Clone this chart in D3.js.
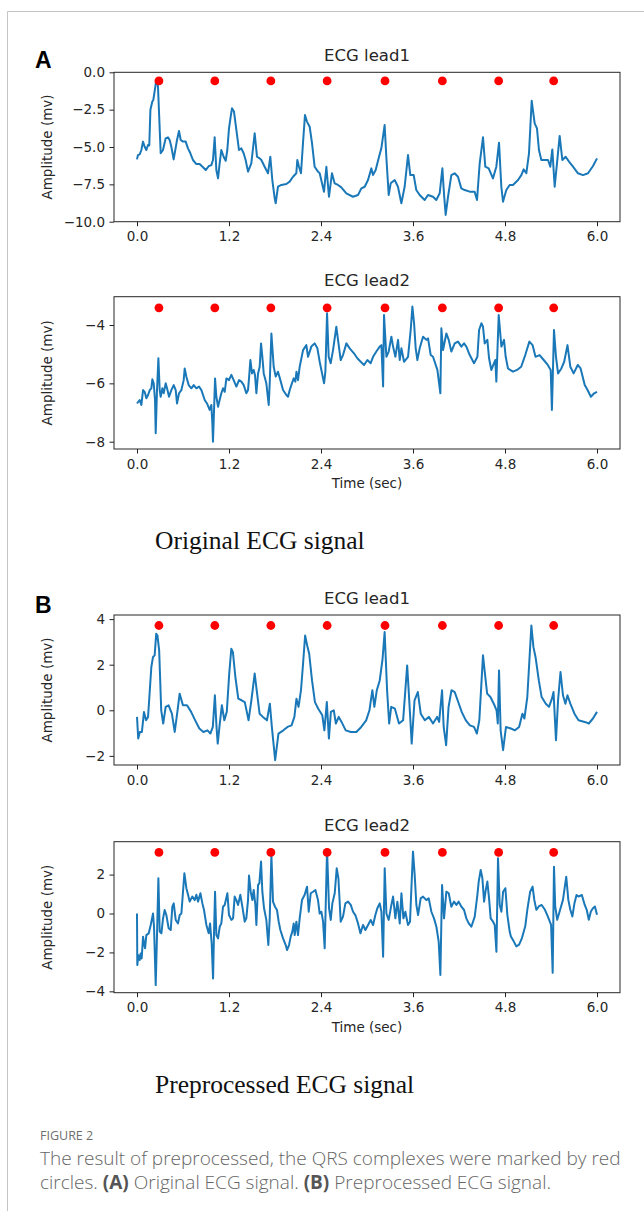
<!DOCTYPE html>
<html>
<head>
<meta charset="utf-8">
<script src="https://cdnjs.cloudflare.com/ajax/libs/d3/7.8.5/d3.min.js"></script>
<style>
  body { margin: 0; background: #fff; }
  svg { display: block; }
  .tick text { font-family: "DejaVu Sans", sans-serif; font-size: 13.5px; fill: #262626; }
  .tick line { stroke: #222; }
</style>
</head>
<body>
<div class="figure"></div>
<script>

// ---- data ----
var xTicks = [0, 1.2, 2.4, 3.6, 4.8, 6.0];
var qrsTimes = [0.286, 1.015, 1.746, 2.480, 3.235, 3.983, 4.717, 5.435];
var qrsLevels = [-0.58, -3.41, 3.72, 3.14];   // height of the red markers per panel

var yTicksOrig1 = [0, -2.5, -5, -7.5, -10];
var yTicksOrig2 = [-4, -6, -8];
var yTicksProc1 = [4, 2, 0, -2];
var yTicksProc2 = [2, 0, -2, -4];

// original lead1
var origLead1T = [0.000,0.013,0.035,0.057,0.078,0.100,0.122,0.143,0.160,0.175,0.200,0.213,0.235,0.252,0.265,0.274,0.309,0.339,0.374,0.404,0.426,0.448,0.478,0.522,0.548,0.570,0.600,0.635,0.665,0.696,0.730,0.774,0.817,0.861,0.896,0.939,0.970,0.991,1.013,1.035,1.057,1.078,1.100,1.130,1.157,1.178,1.200,1.222,1.239,1.265,1.296,1.330,1.361,1.391,1.417,1.448,1.491,1.535,1.565,1.600,1.622,1.665,1.709,1.739,1.765,1.796,1.809,1.839,1.883,1.948,1.991,2.035,2.078,2.091,2.113,2.139,2.165,2.191,2.217,2.252,2.283,2.317,2.361,2.383,2.439,2.470,2.504,2.543,2.578,2.622,2.665,2.730,2.817,2.883,2.926,2.970,3.013,3.057,3.078,3.113,3.157,3.187,3.230,3.252,3.283,3.309,3.361,3.404,3.448,3.491,3.535,3.565,3.609,3.643,3.687,3.752,3.796,3.861,3.904,3.948,3.983,4.004,4.026,4.057,4.100,4.143,4.187,4.230,4.274,4.339,4.404,4.435,4.470,4.513,4.543,4.587,4.643,4.687,4.722,4.752,4.774,4.817,4.861,4.904,4.970,5.013,5.043,5.078,5.113,5.148,5.187,5.217,5.243,5.274,5.317,5.361,5.391,5.417,5.448,5.478,5.513,5.548,5.591,5.635,5.687,5.752,5.817,5.883,5.948,6.000];
var origLead1V = [-5.83,-5.54,-5.49,-5.20,-4.64,-4.98,-5.20,-4.87,-4.90,-2.50,-1.96,-1.85,-1.10,-0.51,-0.62,-1.00,-5.42,-5.20,-4.42,-4.35,-4.53,-4.98,-5.83,-4.53,-3.93,-4.53,-4.64,-4.64,-5.09,-5.42,-5.87,-6.14,-6.14,-6.36,-6.54,-6.27,-6.21,-5.87,-4.35,-6.54,-7.10,-6.09,-5.20,-5.65,-5.92,-5.20,-3.75,-2.97,-2.41,-2.63,-3.86,-5.20,-5.09,-5.42,-5.87,-6.65,-6.09,-4.08,-5.65,-5.76,-5.87,-6.32,-6.76,-5.65,-7.21,-8.44,-8.77,-7.66,-7.54,-7.48,-7.32,-6.99,-6.76,-5.87,-6.32,-6.76,-4.75,-2.86,-3.30,-3.64,-4.75,-6.32,-6.65,-6.76,-8.00,-6.32,-8.33,-6.76,-7.43,-7.54,-7.70,-8.10,-8.33,-8.21,-7.77,-7.66,-7.21,-6.43,-6.88,-6.54,-5.65,-5.09,-3.53,-5.65,-8.21,-7.43,-7.21,-7.66,-8.77,-7.66,-5.54,-6.88,-6.88,-7.88,-8.21,-8.55,-8.21,-8.33,-8.55,-8.10,-6.43,-8.10,-9.55,-8.33,-6.88,-6.76,-6.99,-7.77,-7.88,-7.99,-7.99,-8.55,-6.09,-4.35,-6.32,-6.43,-7.10,-6.32,-4.71,-7.66,-8.66,-7.88,-7.54,-7.54,-7.21,-6.88,-6.50,-6.76,-5.42,-1.90,-3.42,-3.75,-5.20,-5.87,-5.87,-5.87,-6.32,-5.16,-7.66,-6.09,-4.26,-5.87,-5.65,-5.98,-6.32,-6.76,-6.88,-6.76,-6.27,-5.76];

// original lead2
var origLead2T = [0.000,0.035,0.057,0.079,0.100,0.122,0.144,0.166,0.187,0.200,0.218,0.235,0.244,0.261,0.279,0.296,0.309,0.331,0.348,0.374,0.392,0.418,0.448,0.479,0.505,0.522,0.548,0.579,0.609,0.622,0.644,0.674,0.709,0.740,0.774,0.809,0.840,0.883,0.913,0.948,0.970,0.983,0.991,1.005,1.018,1.035,1.057,1.078,1.100,1.122,1.144,1.166,1.200,1.231,1.261,1.296,1.331,1.361,1.392,1.426,1.448,1.461,1.479,1.500,1.522,1.539,1.557,1.579,1.600,1.618,1.635,1.653,1.687,1.718,1.731,1.753,1.783,1.809,1.839,1.870,1.905,1.948,1.970,1.992,2.013,2.044,2.065,2.080,2.100,2.122,2.166,2.209,2.231,2.274,2.317,2.353,2.383,2.440,2.457,2.479,2.500,2.526,2.557,2.600,2.622,2.657,2.687,2.731,2.774,2.830,2.874,2.918,2.961,3.005,3.048,3.079,3.122,3.166,3.188,3.210,3.222,3.253,3.283,3.318,3.340,3.370,3.405,3.427,3.449,3.483,3.535,3.570,3.592,3.614,3.635,3.657,3.687,3.731,3.775,3.796,3.831,3.861,3.918,3.957,3.970,3.992,4.035,4.066,4.100,4.144,4.187,4.231,4.266,4.296,4.340,4.396,4.440,4.462,4.492,4.513,4.535,4.570,4.592,4.622,4.657,4.674,4.687,4.718,4.753,4.787,4.809,4.839,4.904,4.957,5.011,5.064,5.118,5.160,5.198,5.251,5.305,5.358,5.396,5.412,5.439,5.465,5.492,5.535,5.572,5.615,5.652,5.695,5.749,5.786,5.840,5.877,5.920,5.963,6.000];
var origLead2V = [-6.69,-6.57,-6.74,-6.23,-6.29,-6.51,-6.40,-6.23,-6.17,-5.86,-6.00,-6.57,-7.71,-6.23,-5.14,-6.23,-6.46,-6.17,-6.34,-6.00,-6.17,-6.46,-6.23,-6.06,-6.23,-6.69,-6.34,-6.23,-5.89,-5.49,-5.77,-6.06,-6.17,-6.06,-6.17,-6.11,-6.23,-6.57,-6.69,-6.91,-6.74,-7.37,-8.00,-6.91,-5.83,-6.46,-6.80,-6.57,-6.34,-6.17,-6.29,-5.83,-5.89,-5.71,-5.89,-6.11,-5.89,-5.94,-6.06,-6.34,-6.23,-5.83,-5.20,-5.66,-5.54,-5.71,-6.34,-5.66,-5.43,-4.63,-5.09,-5.66,-6.00,-6.74,-6.00,-4.29,-5.43,-5.77,-5.60,-5.89,-6.23,-6.40,-6.46,-6.23,-6.06,-5.83,-5.94,-5.60,-5.89,-5.43,-4.86,-4.69,-5.09,-4.74,-4.63,-4.80,-5.26,-6.00,-5.60,-3.60,-5.09,-5.31,-4.86,-4.06,-4.51,-5.20,-5.03,-4.63,-4.80,-4.97,-5.14,-5.26,-5.37,-5.20,-5.31,-5.09,-4.91,-4.74,-4.69,-6.11,-3.66,-5.09,-4.91,-4.40,-4.74,-5.09,-4.51,-5.20,-4.80,-5.26,-5.09,-4.17,-3.37,-3.94,-4.80,-5.20,-4.80,-4.40,-4.51,-4.46,-5.03,-5.09,-5.54,-6.34,-4.11,-4.86,-4.29,-4.51,-4.91,-4.63,-4.57,-4.74,-4.63,-4.74,-5.03,-5.31,-5.09,-4.17,-3.94,-4.06,-4.63,-4.51,-5.14,-5.54,-5.31,-5.20,-5.94,-3.66,-4.74,-4.51,-5.09,-5.49,-5.60,-5.54,-5.43,-5.03,-4.57,-4.69,-5.09,-5.03,-5.20,-5.37,-5.54,-6.91,-4.17,-5.09,-5.66,-5.49,-5.26,-4.69,-5.43,-5.66,-5.37,-5.49,-6.06,-6.23,-6.46,-6.34,-6.29];

// preprocessed lead1
var procLead1T = [0.000,0.016,0.037,0.064,0.091,0.118,0.144,0.187,0.209,0.230,0.251,0.267,0.289,0.316,0.342,0.374,0.412,0.455,0.492,0.529,0.556,0.599,0.652,0.706,0.759,0.813,0.866,0.920,0.957,0.989,1.016,1.037,1.053,1.080,1.107,1.139,1.171,1.203,1.230,1.251,1.283,1.321,1.364,1.406,1.455,1.492,1.535,1.561,1.599,1.642,1.695,1.733,1.759,1.802,1.845,1.909,1.963,2.016,2.053,2.080,2.107,2.139,2.166,2.193,2.219,2.246,2.283,2.321,2.364,2.417,2.444,2.476,2.503,2.529,2.567,2.594,2.631,2.668,2.722,2.791,2.861,2.925,2.989,3.032,3.070,3.096,3.128,3.166,3.203,3.230,3.262,3.289,3.316,3.364,3.417,3.471,3.524,3.551,3.583,3.620,3.663,3.701,3.754,3.807,3.861,3.914,3.941,3.979,4.000,4.032,4.064,4.102,4.144,4.182,4.235,4.289,4.342,4.396,4.433,4.465,4.513,4.529,4.567,4.610,4.663,4.690,4.706,4.722,4.743,4.775,4.813,4.877,4.930,4.984,5.027,5.053,5.091,5.144,5.171,5.198,5.241,5.278,5.332,5.374,5.412,5.433,5.465,5.492,5.524,5.556,5.588,5.615,5.652,5.706,5.759,5.840,5.893,5.947,6.000];
var procLead1V = [-0.29,-1.24,-0.95,-0.95,-0.07,-0.44,-0.29,1.90,2.34,2.41,3.36,3.28,2.63,0.00,-0.58,0.15,0.22,-0.15,-0.95,0.00,0.73,0.22,0.22,-0.07,-0.44,-0.80,-0.95,-0.88,-1.02,-0.73,0.66,-0.73,-1.46,-0.58,0.22,-0.44,-0.07,1.61,2.70,2.55,1.46,0.51,0.44,0.36,-0.44,0.44,1.61,0.88,-0.15,-0.29,-0.44,0.29,-0.73,-2.19,-1.02,-0.88,-0.73,-0.66,-0.29,0.51,0.15,0.88,2.04,3.28,2.85,2.48,1.31,0.36,0.07,-0.22,-0.88,0.36,-1.24,-0.07,0.00,-0.58,-0.29,-0.51,-0.88,-0.95,-0.95,-0.73,-0.44,0.00,0.88,0.15,0.88,1.31,2.26,3.43,0.88,-0.58,0.15,0.07,-0.58,-0.44,1.97,0.44,-1.46,0.44,0.80,-0.15,-0.44,-0.29,-0.58,-0.29,-0.51,0.88,-0.73,-1.53,0.15,0.88,0.80,0.44,-0.07,-0.44,-0.66,-0.73,-1.02,-0.44,2.41,1.90,0.73,0.58,0.22,0.00,-0.58,1.75,-0.88,-1.75,-0.73,-0.80,-0.88,-0.73,-0.15,-0.36,0.58,3.72,2.77,2.34,1.31,0.58,0.29,0.15,0.51,0.80,-1.31,0.44,1.68,0.66,0.29,0.66,0.29,-0.15,-0.44,-0.51,-0.58,-0.36,-0.07];

// preprocessed lead2
var procLead2T = [0.000,0.004,0.018,0.035,0.048,0.061,0.079,0.092,0.105,0.122,0.153,0.179,0.196,0.209,0.222,0.244,0.261,0.279,0.296,0.318,0.340,0.361,0.383,0.413,0.440,0.461,0.479,0.505,0.535,0.557,0.579,0.618,0.644,0.666,0.687,0.722,0.753,0.774,0.796,0.827,0.853,0.874,0.905,0.935,0.953,0.974,0.992,1.005,1.018,1.035,1.057,1.079,1.100,1.122,1.144,1.179,1.200,1.231,1.253,1.274,1.296,1.318,1.348,1.374,1.405,1.426,1.448,1.461,1.483,1.505,1.522,1.544,1.557,1.579,1.596,1.618,1.635,1.657,1.687,1.713,1.731,1.753,1.774,1.800,1.826,1.848,1.870,1.905,1.940,1.957,1.983,2.005,2.026,2.044,2.057,2.079,2.100,2.122,2.152,2.187,2.218,2.240,2.266,2.296,2.327,2.361,2.383,2.405,2.427,2.448,2.479,2.505,2.527,2.548,2.579,2.605,2.627,2.657,2.687,2.718,2.753,2.788,2.818,2.848,2.883,2.914,2.948,2.979,3.014,3.048,3.079,3.109,3.135,3.166,3.188,3.210,3.231,3.253,3.283,3.318,3.340,3.370,3.396,3.427,3.449,3.475,3.500,3.535,3.561,3.579,3.600,3.622,3.644,3.666,3.700,3.731,3.774,3.805,3.840,3.874,3.905,3.935,3.957,3.979,4.005,4.035,4.066,4.100,4.135,4.166,4.196,4.231,4.266,4.296,4.327,4.361,4.405,4.440,4.457,4.483,4.505,4.527,4.549,4.570,4.592,4.613,4.644,4.666,4.688,4.709,4.731,4.753,4.775,4.805,4.831,4.861,4.877,4.914,4.947,4.984,5.021,5.064,5.091,5.128,5.160,5.182,5.209,5.241,5.278,5.321,5.358,5.401,5.422,5.439,5.455,5.481,5.519,5.556,5.599,5.626,5.652,5.679,5.706,5.733,5.759,5.802,5.840,5.866,5.893,5.920,5.947,5.973,6.000];
var procLead2V = [0.00,-2.65,-2.14,-2.39,-2.05,-2.31,-1.19,-1.54,-1.79,-1.11,-1.02,-0.59,-0.25,0.00,-0.68,-3.68,-1.11,1.81,-0.93,-1.02,-0.25,0.18,-0.08,-0.76,-0.85,0.35,0.52,-0.33,-0.51,-0.08,0.00,2.07,1.30,0.96,0.61,0.87,0.69,0.96,0.61,1.04,0.52,0.18,-0.59,-1.02,-0.51,-1.54,-3.34,-0.93,1.12,-1.11,-1.28,-0.68,-0.51,0.35,0.44,1.04,-0.08,-0.33,-0.25,0.87,0.69,0.44,0.96,0.35,-0.42,-0.25,0.69,1.95,1.12,0.69,1.21,0.44,-0.59,1.47,1.55,2.67,1.12,0.27,-0.33,-1.62,-0.25,3.01,0.61,0.35,0.18,-0.42,-0.85,-1.28,-1.62,-1.88,-1.62,-1.19,-0.93,-0.51,-1.11,-0.42,-1.11,-0.25,0.69,0.96,1.38,0.09,1.04,1.12,1.21,0.69,0.00,0.09,-0.42,-1.79,3.27,0.27,-0.33,0.52,1.04,2.32,1.81,-0.42,-0.16,0.52,0.61,0.44,0.09,-0.08,-0.51,-1.02,-0.59,-0.85,-0.59,-0.33,-0.59,-0.08,0.27,0.52,0.09,-2.22,2.32,0.00,-0.33,0.44,0.87,-0.25,0.61,-0.51,1.04,-0.25,0.09,-0.59,-0.42,1.30,3.18,1.98,0.44,-0.08,0.78,0.87,0.69,0.78,0.09,-0.25,-0.68,-1.45,-3.16,1.47,-0.25,1.12,1.04,0.35,0.61,0.44,0.61,0.35,0.18,-0.25,-0.51,-0.68,-0.16,0.96,1.64,2.24,1.81,0.61,1.21,1.64,0.78,-0.25,-0.42,-0.59,-1.96,2.84,0.44,0.09,1.12,1.30,-0.08,-0.93,-1.18,-1.43,-1.69,-1.60,-1.26,-0.66,0.19,1.12,1.38,0.70,0.19,0.36,0.44,0.19,-0.15,-0.58,-3.05,2.40,0.36,-0.32,0.19,0.70,1.89,0.70,0.19,-0.15,0.53,0.95,0.87,0.95,0.44,0.19,-0.32,0.10,0.27,0.36,-0.07];

// ---- layout ----
var width = 644, height = 1211;
var plotLeft = 114, plotRight = 620;
var lineColor = "#1a78b8";

var svg = d3.select(".figure").append("svg")
    .attr("width", width)
    .attr("height", height);

// page border (top and left rule)
svg.append("line").attr("x1", 7.5).attr("x2", width).attr("y1", 11.5).attr("y2", 11.5)
    .attr("stroke", "#c4c4c4");
svg.append("line").attr("x1", 7.5).attr("x2", 7.5).attr("y1", 11.5).attr("y2", height)
    .attr("stroke", "#c4c4c4");

var x = d3.scaleLinear().domain([-0.3, 6.3]).range([plotLeft, plotRight]);

var panels = [
  {t: origLead1T, v: origLead1V, top: 72.3, bottom: 221.7, yDomain: [-10, 0], yTicks: yTicksOrig1, fmt: ".1f", mark: qrsLevels[0], title: "ECG lead1", xlabel: false},
  {t: origLead2T, v: origLead2V, top: 296.7, bottom: 449, yDomain: [-8.25, -3.03], yTicks: yTicksOrig2, fmt: "d", mark: qrsLevels[1], title: "ECG lead2", xlabel: true},
  {t: procLead1T, v: procLead1V, top: 615, bottom: 765, yDomain: [-2.40, 4.18], yTicks: yTicksProc1, fmt: "d", mark: qrsLevels[2], title: "ECG lead1", xlabel: false},
  {t: procLead2T, v: procLead2V, top: 841.7, bottom: 992.7, yDomain: [-4.07, 3.69], yTicks: yTicksProc2, fmt: "d", mark: qrsLevels[3], title: "ECG lead2", xlabel: true}
];

function drawPanel(p){
  var y = d3.scaleLinear().domain(p.yDomain).range([p.bottom, p.top]);
  var g = svg.append("g");

  // x axis
  var xAxis = g.append("g")
      .attr("transform", "translate(0," + p.bottom + ")")
      .call(d3.axisBottom(x).tickValues(xTicks).tickFormat(d3.format(".1f")).tickSize(4.5).tickPadding(5.5));
  xAxis.select(".domain").remove();

  // y axis
  var yAxis = g.append("g")
      .attr("transform", "translate(" + plotLeft + ",0)")
      .call(d3.axisLeft(y).tickValues(p.yTicks).tickFormat(d3.format(p.fmt)).tickSize(4.5).tickPadding(4.5));
  yAxis.select(".domain").remove();

  // signal
  var line = d3.line()
      .x(function(d){ return x(d[0]); })
      .y(function(d){ return y(d[1]); });
  g.append("path")
      .datum(d3.zip(p.t, p.v))
      .attr("d", line)
      .attr("fill", "none")
      .attr("stroke", lineColor)
      .attr("stroke-width", 2)
      .attr("stroke-linejoin", "round");

  // QRS markers
  g.selectAll("circle")
      .data(qrsTimes)
      .enter()
      .append("circle")
      .attr("cx", function(d){ return x(d); })
      .attr("cy", y(p.mark))
      .attr("r", 4.4)
      .attr("fill", "#ff0000");

  // frame
  g.append("rect")
      .attr("x", plotLeft).attr("y", p.top)
      .attr("width", plotRight - plotLeft).attr("height", p.bottom - p.top)
      .attr("fill", "none").attr("stroke", "#262626").attr("stroke-width", 1);

  // title
  g.append("text")
      .attr("x", (plotLeft + plotRight) / 2).attr("y", p.top - 11)
      .attr("text-anchor", "middle")
      .style("font-family", "DejaVu Sans, sans-serif").style("font-size", "16.5px").style("fill", "#262626")
      .text(p.title);

  // y label
  g.append("text")
      .attr("transform", "translate(52," + ((p.top + p.bottom) / 2) + ") rotate(-90)")
      .attr("text-anchor", "middle")
      .style("font-family", "DejaVu Sans, sans-serif").style("font-size", "13.5px").style("fill", "#262626")
      .text("Amplitude (mv)");

  if (p.xlabel) {
    g.append("text")
        .attr("x", (plotLeft + plotRight) / 2).attr("y", p.bottom + 39)
        .attr("text-anchor", "middle")
        .style("font-family", "DejaVu Sans, sans-serif").style("font-size", "13.5px").style("fill", "#262626")
        .text("Time (sec)");
  }
}

panels.forEach(drawPanel);

// panel letters
svg.append("text").attr("x", 35).attr("y", 68)
    .style("font-family", "Liberation Sans, Arial, sans-serif").style("font-weight", "bold").style("font-size", "23px")
    .text("A");
svg.append("text").attr("x", 35).attr("y", 613)
    .style("font-family", "Liberation Sans, Arial, sans-serif").style("font-weight", "bold").style("font-size", "23px")
    .text("B");

// sub-figure captions (serif)
svg.append("text").attr("x", 155).attr("y", 549)
    .style("font-family", "Liberation Serif, Times New Roman, serif").style("font-size", "25.5px").style("fill", "#111")
    .text("Original ECG signal");
svg.append("text").attr("x", 155).attr("y", 1093)
    .style("font-family", "Liberation Serif, Times New Roman, serif").style("font-size", "25.5px").style("fill", "#111")
    .text("Preprocessed ECG signal");

// figure caption
var capFont = "Open Sans, Noto Sans, sans-serif";
svg.append("text").attr("x", 40).attr("y", 1140)
    .style("font-family", capFont).style("font-size", "12.5px").style("fill", "#6f6f6f")
    .text("FIGURE 2");

var cap1 = svg.append("text").attr("x", 40).attr("y", 1165)
    .style("font-family", capFont).style("font-size", "19px").style("font-weight", 300).style("fill", "#666");
cap1.text("The result of preprocessed, the QRS complexes were marked by red");

var cap2 = svg.append("text").attr("x", 40).attr("y", 1189)
    .style("font-family", capFont).style("font-size", "19px").style("font-weight", 300).style("fill", "#666");
cap2.append("tspan").text("circles. ");
cap2.append("tspan").style("font-weight", "bold").style("fill", "#555").text("(A)");
cap2.append("tspan").text(" Original ECG signal. ");
cap2.append("tspan").style("font-weight", "bold").style("fill", "#555").text("(B)");
cap2.append("tspan").text(" Preprocessed ECG signal.");

</script>
</body>
</html>
